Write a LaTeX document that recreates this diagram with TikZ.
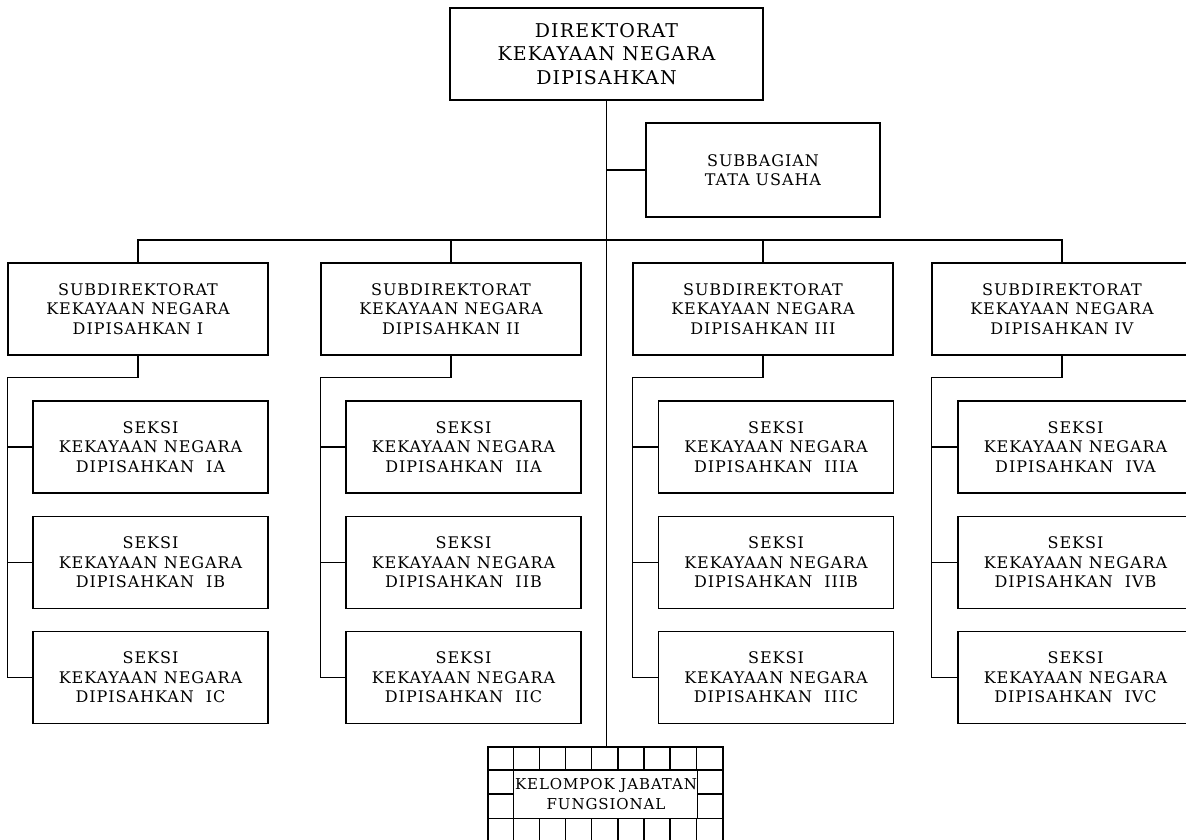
\documentclass[tikz,border=0pt]{standalone}
\usepackage{fontspec}
\setmainfont{DejaVu Serif}[LetterSpace=6]
\usetikzlibrary{positioning,calc}

\begin{document}
\begin{tikzpicture}[x=1pt,y=-1pt]
            \tikzset{
                unit/.style={
                    draw,
                    line width=1.3pt,
                    minimum width=260pt,
                    minimum height=92pt,
                    inner sep=0pt,
                    align=center,
                    font=\fontsize{16}{19.5}\selectfont
                }
            }
            \tikzset{
                seksi/.style={
                    unit,
                    minimum width=235pt
                }
            }
            \tikzset{
                link/.style={
                    line width=1.3pt
                }
            }

            \useasboundingbox (0,0) rectangle (1186,839);
            \clip (0,0) rectangle (1186,839);

            \node[unit, minimum width=313pt, font=\fontsize{19}{23.5}\selectfont] (dir) at (606.5,54) {DIREKTORAT\\KEKAYAAN NEGARA\\DIPISAHKAN};
            \node[unit, minimum width=234pt, minimum height=94pt] (tu) at (763,170) {SUBBAGIAN\\TATA USAHA};

            \node[unit] (sub1) at (138,309) {SUBDIREKTORAT\\KEKAYAAN NEGARA\\DIPISAHKAN I};
            \node[unit] (sub2) at (451,309) {SUBDIREKTORAT\\KEKAYAAN NEGARA\\DIPISAHKAN II};
            \node[unit] (sub3) at (763,309) {SUBDIREKTORAT\\KEKAYAAN NEGARA\\DIPISAHKAN III};
            \node[unit] (sub4) at (1062,309) {SUBDIREKTORAT\\KEKAYAAN NEGARA\\DIPISAHKAN IV};

            \node[seksi] (s1a) at (150.5,447) {SEKSI\\KEKAYAAN NEGARA\\DIPISAHKAN~~IA};
            \node[seksi] (s1b) at (150.5,562.5) {SEKSI\\KEKAYAAN NEGARA\\DIPISAHKAN~~IB};
            \node[seksi] (s1c) at (150.5,677.5) {SEKSI\\KEKAYAAN NEGARA\\DIPISAHKAN~~IC};
            \node[seksi] (s2a) at (463.5,447) {SEKSI\\KEKAYAAN NEGARA\\DIPISAHKAN~~IIA};
            \node[seksi] (s2b) at (463.5,562.5) {SEKSI\\KEKAYAAN NEGARA\\DIPISAHKAN~~IIB};
            \node[seksi] (s2c) at (463.5,677.5) {SEKSI\\KEKAYAAN NEGARA\\DIPISAHKAN~~IIC};
            \node[seksi] (s3a) at (776,447) {SEKSI\\KEKAYAAN NEGARA\\DIPISAHKAN~~IIIA};
            \node[seksi] (s3b) at (776,562.5) {SEKSI\\KEKAYAAN NEGARA\\DIPISAHKAN~~IIIB};
            \node[seksi] (s3c) at (776,677.5) {SEKSI\\KEKAYAAN NEGARA\\DIPISAHKAN~~IIIC};
            \node[seksi] (s4a) at (1075.5,447) {SEKSI\\KEKAYAAN NEGARA\\DIPISAHKAN~~IVA};
            \node[seksi] (s4b) at (1075.5,562.5) {SEKSI\\KEKAYAAN NEGARA\\DIPISAHKAN~~IVB};
            \node[seksi] (s4c) at (1075.5,677.5) {SEKSI\\KEKAYAAN NEGARA\\DIPISAHKAN~~IVC};

            % kelompok jabatan fungsional, drawn as a grid
            \node[draw, line width=1.3pt, minimum width=235pt, minimum height=94pt, inner sep=0pt] (kjf) at (605.5,794) {};
            \node[font=\fontsize{15}{20}\selectfont, align=center] (kjftxt) at (606,794) {KELOMPOK JABATAN\\FUNGSIONAL};
            \foreach \i in {1,...,8} {
                \draw[link] ($(kjf.north west)+(\i*26.11,0)$) -- ++(0,23.5);
                \draw[link] ($(kjf.south west)+(\i*26.11,0)$) -- ++(0,-23.5);
            }
            \draw[link] ($(kjf.north west)+(0,23.5)$) -- ($(kjf.north east)+(0,23.5)$);
            \draw[link] ($(kjf.south west)+(0,-23.5)$) -- ($(kjf.south east)+(0,-23.5)$);
            \draw[link] ($(kjf.north west)+(26.11,23.5)$) -- ($(kjf.south west)+(26.11,-23.5)$);
            \draw[link] ($(kjf.north east)+(-26.11,23.5)$) -- ($(kjf.south east)+(-26.11,-23.5)$);
            \draw[link] (kjf.west) -- ++(26.11,0);
            \draw[link] (kjf.east) -- ++(-26.11,0);

            \coordinate (bus) at (606.5,240);

            \draw[link] (dir.south) -- (dir.south |- kjf.north);
            \draw[link] (dir.south |- tu.west) -- (tu.west);

            \draw[link] (sub1.north) |- (bus) -| (sub4.north);
            \draw[link] (sub2.north) -- (sub2.north |- bus);
            \draw[link] (sub3.north) -- (sub3.north |- bus);

            \coordinate (r1) at ($(sub1.south west)+(0,22)$);
            \coordinate (r2) at ($(sub2.south west)+(0,22)$);
            \coordinate (r3) at ($(sub3.south west)+(0,22)$);
            \coordinate (r4) at ($(sub4.south west)+(0,22)$);

            \draw[link] (sub1.south) |- (r1) |- (s1c.west);
            \draw[link] (r1 |- s1a.west) -- (s1a.west);
            \draw[link] (r1 |- s1b.west) -- (s1b.west);

            \draw[link] (sub2.south) |- (r2) |- (s2c.west);
            \draw[link] (r2 |- s2a.west) -- (s2a.west);
            \draw[link] (r2 |- s2b.west) -- (s2b.west);

            \draw[link] (sub3.south) |- (r3) |- (s3c.west);
            \draw[link] (r3 |- s3a.west) -- (s3a.west);
            \draw[link] (r3 |- s3b.west) -- (s3b.west);

            \draw[link] (sub4.south) |- (r4) |- (s4c.west);
            \draw[link] (r4 |- s4a.west) -- (s4a.west);
            \draw[link] (r4 |- s4b.west) -- (s4b.west);
        \end{tikzpicture}
\end{document}
